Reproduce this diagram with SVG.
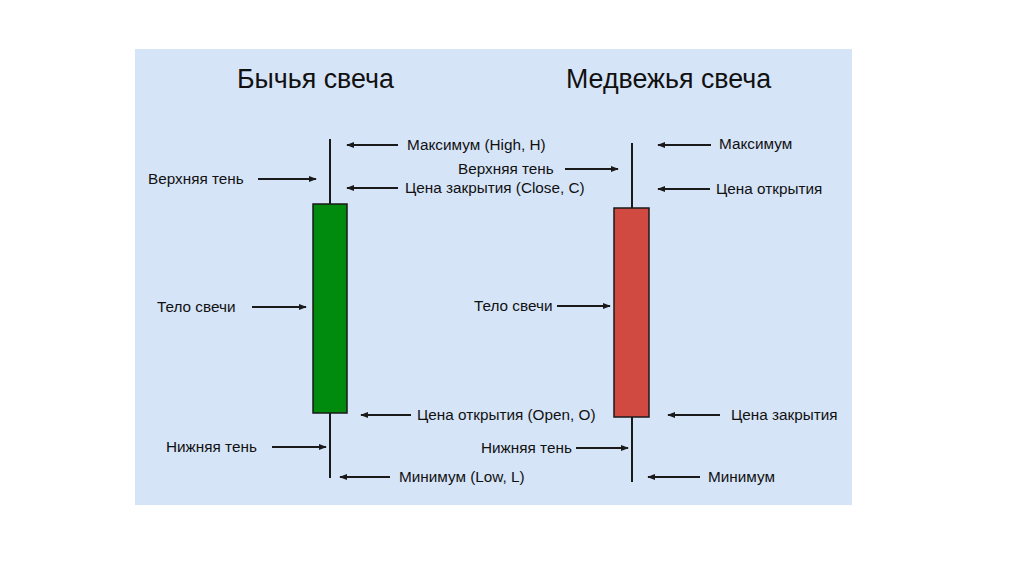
<svg xmlns="http://www.w3.org/2000/svg" width="1024" height="574" viewBox="0 0 1024 574">
<defs>
<marker id="ah" viewBox="0 0 10 10" refX="9" refY="5" markerWidth="4" markerHeight="4" orient="auto" markerUnits="strokeWidth">
<path d="M0,1 L10,5 L0,9 z" fill="#1a1a1a"/>
</marker>
<style>
.lbl{font-family:"Liberation Sans",Arial,sans-serif;font-size:15.3px;fill:#111111}
.ttl{font-family:"Liberation Sans",Arial,sans-serif;font-size:26.8px;fill:#111111}
.arr{stroke:#1a1a1a;stroke-width:2;fill:none;marker-end:url(#ah)}
.wick{stroke:#1a1a1a;stroke-width:2}
</style>
</defs>
<rect x="0" y="0" width="1024" height="574" fill="#ffffff"/>
<rect x="135" y="49" width="717" height="456" fill="#d6e4f8"/>
<text class="ttl" x="237" y="88">Бычья свеча</text>
<text class="ttl" x="566" y="88">Медвежья свеча</text>
<g id="bull-candle">
<line class="wick" x1="330" y1="139" x2="330" y2="478"/>
<rect x="313" y="204" width="34" height="209" fill="#008a0e" stroke="#1a1a1a" stroke-width="1.5"/>
</g>
<g id="bear-candle">
<line class="wick" x1="632" y1="143" x2="632" y2="482"/>
<rect x="614" y="208" width="35" height="209" fill="#d04a42" stroke="#1a1a1a" stroke-width="1.5"/>
</g>
<g id="bull-labels">
<text class="lbl" x="407" y="150">Максимум (High, H)</text>
<text class="lbl" x="148" y="184">Верхняя тень</text>
<text class="lbl" x="405" y="193">Цена закрытия (Close, C)</text>
<text class="lbl" x="157" y="312">Тело свечи</text>
<text class="lbl" x="417" y="420">Цена открытия (Open, O)</text>
<text class="lbl" x="166" y="452">Нижняя тень</text>
<text class="lbl" x="399" y="482">Минимум (Low, L)</text>
</g>
<g id="bear-labels">
<text class="lbl" x="719" y="149">Максимум</text>
<text class="lbl" x="458" y="174">Верхняя тень</text>
<text class="lbl" x="716" y="194">Цена открытия</text>
<text class="lbl" x="474" y="311">Тело свечи</text>
<text class="lbl" x="731" y="420">Цена закрытия</text>
<text class="lbl" x="481" y="453">Нижняя тень</text>
<text class="lbl" x="708" y="482">Минимум</text>
</g>
<g id="connectors">
<line class="arr" x1="398" y1="145" x2="347" y2="145"/>
<line class="arr" x1="258" y1="179" x2="316" y2="179"/>
<line class="arr" x1="398" y1="188" x2="347" y2="188"/>
<line class="arr" x1="252" y1="307" x2="306" y2="307"/>
<line class="arr" x1="411" y1="415" x2="361" y2="415"/>
<line class="arr" x1="272" y1="447" x2="326" y2="447"/>
<line class="arr" x1="390" y1="477" x2="340" y2="477"/>
<line class="arr" x1="711" y1="145" x2="658" y2="145"/>
<line class="arr" x1="565" y1="169" x2="618" y2="169"/>
<line class="arr" x1="710" y1="189" x2="658" y2="189"/>
<line class="arr" x1="557" y1="306" x2="610" y2="306"/>
<line class="arr" x1="720" y1="415" x2="668" y2="415"/>
<line class="arr" x1="576" y1="448" x2="628" y2="448"/>
<line class="arr" x1="700" y1="477" x2="648" y2="477"/>
</g>
</svg>
